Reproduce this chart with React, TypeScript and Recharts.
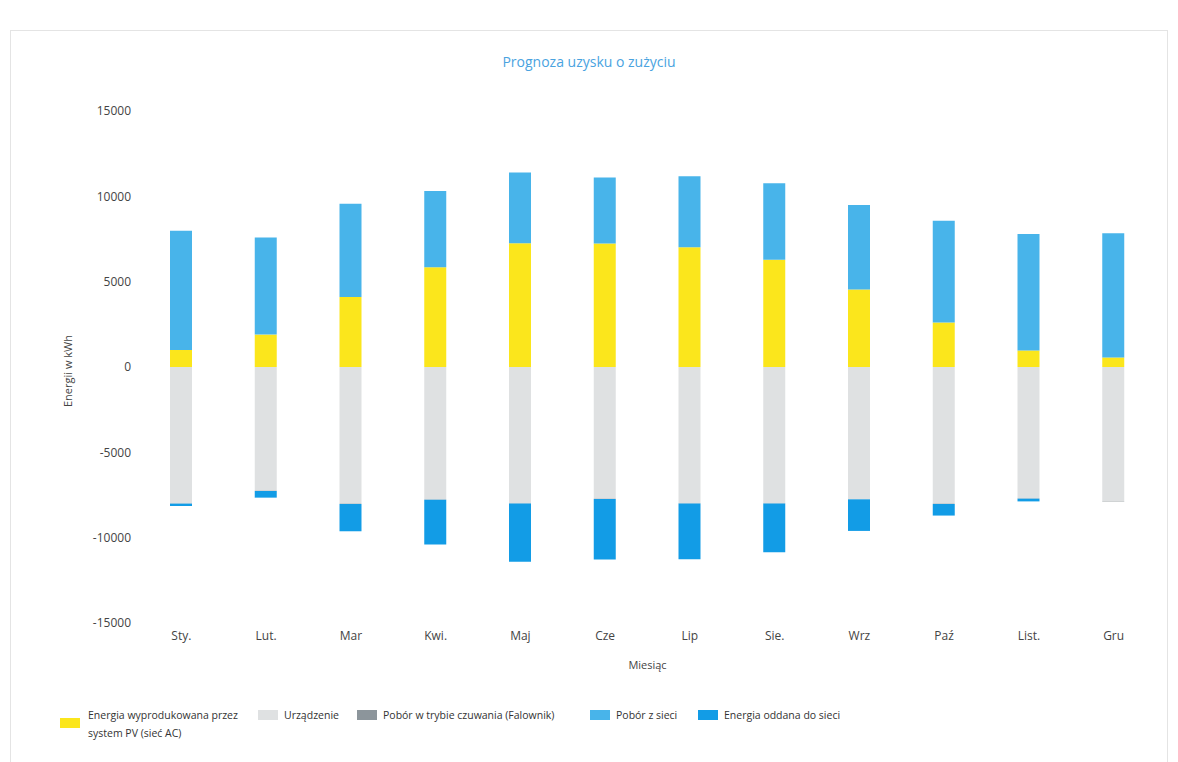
import React from 'react';
import { BarChart, Bar, XAxis, YAxis, Label } from 'recharts';

const months = ['Sty.', 'Lut.', 'Mar', 'Kwi.', 'Maj', 'Cze', 'Lip', 'Sie.', 'Wrz', 'Paź', 'List.', 'Gru'];
const pvProduced = [1000, 1900, 4100, 5850, 7250, 7230, 7020, 6280, 4540, 2610, 970, 560];
const devices = [-7990, -7250, -8010, -7760, -7990, -7720, -7990, -7990, -7740, -8010, -7700, -7890];
const standby = [-15, -15, -15, -15, -15, -15, -15, -15, -15, -15, -15, -15];
const gridImport = [6980, 5690, 5460, 4460, 4150, 3880, 4150, 4480, 4950, 5960, 6820, 7270];
const gridExport = [-140, -390, -1600, -2630, -3410, -3550, -3260, -2850, -1850, -680, -160, 0];
const yTicks = [-15000, -10000, -5000, 0, 5000, 10000, 15000];

const COLORS = {
  pv: '#fbe61c',
  devices: '#dfe1e2',
  standby: '#8c959b',
  import: '#48b4ea',
  export: '#129ce6',
};

const legendItems = [
  { label: 'Energia wyprodukowana przez', label2: 'system PV (sieć AC)', color: COLORS.pv, x: 60, textX: 88, y: 718 },
  { label: 'Urządzenie', color: COLORS.devices, x: 258, textX: 284, y: 710 },
  { label: 'Pobór w trybie czuwania (Falownik)', color: COLORS.standby, x: 357, textX: 383, y: 710 },
  { label: 'Pobór z sieci', color: COLORS.import, x: 590, textX: 616, y: 710 },
  { label: 'Energia oddana do sieci', color: COLORS.export, x: 698, textX: 724, y: 710 },
];

const App: React.FC = () => {
  const data = months.map((m, i) => ({
    month: m,
    pv: pvProduced[i],
    devices: devices[i],
    standby: standby[i],
    gridImport: gridImport[i],
    gridExport: gridExport[i],
  }));

  const font = '"Open Sans", sans-serif';

  return (
    <div style={{ position: 'absolute', left: 0, top: 0, width: 1178, height: 762, background: '#fff', fontFamily: font, overflow: 'hidden' }}>
      {/* page frame from the scanned report */}
      <div style={{ position: 'absolute', left: 10, top: 30, width: 1156, height: 740, border: '1px solid #e4e4e4' }} />
      <div
        style={{
          position: 'absolute',
          left: 0,
          width: 1178,
          top: 52,
          textAlign: 'center',
          fontSize: 14,
          color: '#4aa3df',
        }}
      >
        Prognoza uzysku o zużyciu
      </div>

      <BarChart
        width={1178}
        height={762}
        data={data}
        stackOffset="sign"
        barSize={22}
        margin={{ top: 111, right: 22, left: 0, bottom: 93 }}
        style={{ position: 'absolute', left: 0, top: 0 }}
      >
        <XAxis
          dataKey="month"
          axisLine={false}
          tickLine={false}
          height={46}
          tick={{ fontSize: 12, fill: '#444', fontFamily: font }}
        >
          <Label value="Miesiąc" position="insideBottom" offset={0} style={{ fontSize: 11, fill: '#444', fontFamily: font }} />
        </XAxis>
        <YAxis
          domain={[-15000, 15000]}
          ticks={yTicks}
          axisLine={false}
          tickLine={false}
          width={139}
          tick={{ fontSize: 12, fill: '#444', fontFamily: font }}
        >
          <Label
            content={() => (
              <text
                x={67}
                y={371}
                transform="rotate(-90 67 371)"
                textAnchor="middle"
                dominantBaseline="central"
                style={{ fontSize: 11, fill: '#444', fontFamily: font }}
              >
                Energii w kWh
              </text>
            )}
          />
        </YAxis>
        <Bar dataKey="pv" stackId="a" fill={COLORS.pv} isAnimationActive={false} />
        <Bar dataKey="devices" stackId="a" fill={COLORS.devices} isAnimationActive={false} />
        <Bar dataKey="standby" stackId="a" fill={COLORS.standby} isAnimationActive={false} />
        <Bar dataKey="gridImport" stackId="a" fill={COLORS.import} isAnimationActive={false} />
        <Bar dataKey="gridExport" stackId="a" fill={COLORS.export} isAnimationActive={false} />
      </BarChart>

      {legendItems.map((it) => (
        <React.Fragment key={it.label}>
          <div style={{ position: 'absolute', left: it.x, top: it.y, width: 20, height: 10, background: it.color }} />
          <div style={{ position: 'absolute', left: it.textX, top: 706, fontSize: 10.5, lineHeight: '18px', color: '#333', whiteSpace: 'nowrap' }}>
            {it.label}
            {it.label2 ? <br /> : null}
            {it.label2}
          </div>
        </React.Fragment>
      ))}
    </div>
  );
};

export default App;
